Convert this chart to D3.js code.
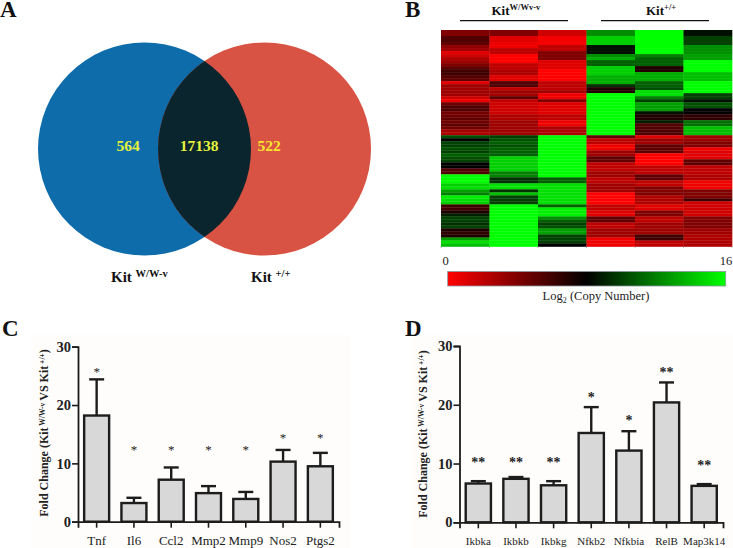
<!DOCTYPE html>
<html><head><meta charset="utf-8">
<script src="https://cdnjs.cloudflare.com/ajax/libs/d3/7.8.5/d3.min.js"></script>
<style>html,body{margin:0;padding:0;background:#fff}svg{display:block}
text{font-family:"Liberation Serif",serif}</style></head><body>
<svg id="c" width="733" height="548"></svg>
<script>
// Data
const vennLabels = ["564","17138","522"];
const heatColumns = ["a","b","c","d","e","f"];
const heat1 = [4,4,5.5,5.5,5,3.5,3,1,1.5,2.5,3,4,5,6,6,5.5,5,1,3,3,3,3,1.5,.5,4.5,5.5,5.5,4.5,4.5,5,4.5,5,4.5,3,2.5,10.5,8,10,10,10.5,10,11,10.5,10,8,8,5.5,5.5,16,16,16,14.5,15,13,12,15.5,15,14.5,6,6,7,9,10,10,9.5,10,7,6.5,7,13,15,14];
const heat2 = [4,4,1,1,.5,.5,2,2,0,0,0,2,2,2.5,2.5,1,1,5.5,5.5,2,3,3,5,2,1.5,1.5,1.5,1.5,2.5,2.5,3,3,3,3,3,10,10.5,11,10.5,11,11,11,14.5,14.5,14.5,14.5,14.5,12,12,9.5,9.5,15,15,9.5,14,10,10,10,16,16,16,16,16,16,16,16,16,16,16,16,16,16];
const heat3 = [1.5,1.5,.3,.3,.3,2,2,4,4,4,1,1,1,0,0,0,0,2,2,2,3,.5,.5,4,1,1,1,1,2,2,.5,.5,2.5,2.5,2.5,16,16,16,16,16,16,16,16,16,16,16,16,16,16,11,11,15,15,15,15,15,15,15,11,15.5,15.5,15.5,12.5,11,10,10.5,13,13,10,10,10,8];
const heat4 = [12.5,12.5,14.5,14.5,14.5,8.5,8.5,8.5,12.5,13.5,11,11,14.5,14.5,14.5,13.5,13.5,13.5,9.5,7,7,16,16,16,16,16,16,16,16,16,16,16,16,16,16,5,2,2,.5,.5,3,3,5,5,2,2,2,3,3,2,2,3,3,3,0,0,0,0,2,2,1,1,5,5,2,2,3,3,3,.5,.5,.5];
const heat5 = [16,16,16,16,16,16,16,16,12,11,11,11,7,7,13.5,13.5,13.5,11,11,10.5,15,15,12,10,13,13,13,8.5,7,7,9,5.5,5.5,5.5,5.5,1,3,3,5,5,5,0,0,0,0,2,2,2,5,5,2,2,4,4,4,2.5,2.5,2.5,1,1,4,4,2,2,3,3,3,3,6,6,2,2];
const heat6 = [8.5,8.5,10,10,10,12.5,12.5,12.5,13,13,16,16,16,16,14,14,14,16,16,16,16,10,10,8.5,10.5,10.5,8,8,6.5,6.5,11.5,11.5,14,14,14,3,3,4,4,.5,1,1,1,5,5,2,2,2,2.5,2.5,.5,.5,.5,4,4,4,6,1.5,1.5,1.5,1.5,1.5,4,4,4,4,3,3,2.5,2.5,2.5,2.5];
const heatData = [heat1,heat2,heat3,heat4,heat5,heat6];

const catC = ["Tnf","Il6","Ccl2","Mmp2","Mmp9","Nos2","Ptgs2"];
const meanC = [18.2,3.2,7.2,4.9,3.9,10.3,9.5];
const topC = [24.4,4.1,9.3,6.1,5.1,12.3,11.8];
const starC = ["*","*","*","*","*","*","*"];
const starPosC = [25.9,12.5,12.5,12.5,12.5,14.6,14.6];

const catD = ["Ikbka","Ikbkb","Ikbkg","Nfkb2","Nfkbia","RelB","Map3k14"];
const meanD = [6.6,7.4,6.3,15.2,12.2,20.4,6.2];
const topD = [7.0,7.7,7.0,19.6,15.5,23.8,6.5];
const starD = ["**","**","**","*","*","**","**"];
const starPosD = [10.3,10.3,10.3,21.3,17.4,25.6,9.7];
const yTicks = [0,10,20,30];

const svg = d3.select("#c");
const defs = svg.append("defs");
svg.append("rect").attr("x",30).attr("y",335).attr("width",320).attr("height",213).attr("fill","#fefdfb");
svg.append("rect").attr("x",412).attr("y",335).attr("width",321).attr("height",213).attr("fill","#fefdfb");

function letter(t,x,y){svg.append("text").attr("x",x).attr("y",y).attr("font-size",23).attr("font-weight","bold").attr("fill","#111").text(t);}
letter("A",0,17);letter("B",405,17);letter("C",2,336);letter("D",405,336);

// Venn
const lc={x:144.5,y:149,r:106.5}, rc={x:264.5,y:149,r:106.5};
defs.append("clipPath").attr("id","clipL").append("circle").attr("cx",lc.x).attr("cy",lc.y).attr("r",lc.r);
svg.append("circle").attr("cx",lc.x).attr("cy",lc.y).attr("r",lc.r).attr("fill","#0e6cab");
svg.append("circle").attr("cx",rc.x).attr("cy",rc.y).attr("r",rc.r).attr("fill","#d85343");
svg.append("circle").attr("cx",rc.x).attr("cy",rc.y).attr("r",rc.r).attr("fill","#0a252e").attr("clip-path","url(#clipL)");
const vennX=[128,199,269], vennFill=["#e6f23c","#e6f23c","#f7e62e"];
svg.selectAll(".vn").data(vennLabels).join("text").attr("x",(d,i)=>vennX[i]).attr("y",151)
  .attr("text-anchor","middle").attr("font-size",15.5).attr("font-weight","bold").attr("fill",(d,i)=>vennFill[i]).text(d=>d);
function kit(x,y,sup,size,supSize,gap){
  const t=svg.append("text").attr("x",x).attr("y",y).attr("font-size",size).attr("font-weight","bold").attr("fill","#111");
  t.append("tspan").text("Kit"+(gap?"\u00a0":""));
  t.append("tspan").attr("dy",-5).attr("font-size",supSize).text(sup);
}
kit(111,282,"W/W-v",15,10.5,true);
kit(251,282,"+/+",15,10.5,true);

// Heatmap
const hx=d3.scaleBand().domain(heatColumns).range([441,732]);
const hy=d3.scaleBand().domain(d3.range(72)).range([30,246.5]);
const hc=d3.scaleLinear().domain([0,8,16]).range(["#ff0000","#000000","#00ff00"]);
heatColumns.forEach((c,ci)=>{
  svg.append("g").selectAll("rect").data(heatData[ci]).join("rect")
   .attr("x",hx(c)).attr("width",hx.bandwidth()+.3).attr("y",(d,i)=>hy(i)).attr("height",hy.bandwidth()+.3).attr("fill",d=>hc(d));
});
const hb=svg.append("g").attr("stroke","#999").attr("stroke-width",.7);
d3.range(7).forEach(i=>{const x=441+i*hx.bandwidth();hb.append("line").attr("x1",x).attr("x2",x).attr("y1",246.5).attr("y2",248);});
kit(491.5,15,"W/Wv-v",13,8.5,false);
kit(646,15,"+/+",13,8.5,false);
svg.append("line").attr("x1",460).attr("x2",568).attr("y1",20.7).attr("y2",20.7).attr("stroke","#111").attr("stroke-width",1.2);
svg.append("line").attr("x1",601).attr("x2",709).attr("y1",20.7).attr("y2",20.7).attr("stroke","#111").attr("stroke-width",1.2);
const grad=defs.append("linearGradient").attr("id","g");
[0,8,16].forEach(v=>grad.append("stop").attr("offset",v/16).attr("stop-color",hc(v)));
svg.append("rect").attr("x",447.7).attr("y",271.5).attr("width",278).attr("height",14.5).attr("fill","url(#g)").attr("stroke","#8a96a0").attr("stroke-width",.8);
svg.append("text").attr("x",445.5).attr("y",265).attr("text-anchor","middle").attr("font-size",12.5).attr("fill","#222").text("0");
svg.append("text").attr("x",726).attr("y",265).attr("text-anchor","middle").attr("font-size",12.5).attr("fill","#222").text("16");
const lg=svg.append("text").attr("x",596).attr("y",300).attr("text-anchor","middle").attr("font-size",12.5).attr("fill","#222");
lg.append("tspan").text("Log");lg.append("tspan").attr("dy",3).attr("font-size",8).text("2");lg.append("tspan").attr("dy",-3).text(" (Copy Number)");

// Bar charts
function bars(o){
  const g=svg.append("g");
  const x=d3.scaleBand().domain(o.cats).range(o.xr).paddingInner(.33).paddingOuter(.165);
  const y=d3.scaleLinear().domain([0,30]).range(o.yr);
  const col="#1c1c1c";
  g.selectAll(".eb").data(o.cats).join("line").attr("x1",d=>x(d)+x.bandwidth()/2).attr("x2",d=>x(d)+x.bandwidth()/2)
    .attr("y1",(d,i)=>y(o.mean[i])).attr("y2",(d,i)=>y(o.top[i])).attr("stroke",col).attr("stroke-width",2.4);
  g.selectAll(".cap").data(o.cats).join("line").attr("x1",d=>x(d)+x.bandwidth()/2-7.5).attr("x2",d=>x(d)+x.bandwidth()/2+7.5)
    .attr("y1",(d,i)=>y(o.top[i])).attr("y2",(d,i)=>y(o.top[i])).attr("stroke",col).attr("stroke-width",2.4);
  g.selectAll(".bar").data(o.cats).join("rect").attr("x",d=>x(d)).attr("width",x.bandwidth())
    .attr("y",(d,i)=>y(o.mean[i])).attr("height",(d,i)=>y(0)-y(o.mean[i])).attr("fill","#d8d8d8").attr("stroke",col).attr("stroke-width",2.4);
  const ay=g.append("g").attr("transform",`translate(${o.xr[0]},0)`).call(d3.axisLeft(y).tickValues(yTicks).tickSize(6).tickPadding(1));
  const ax=g.append("g").attr("transform",`translate(0,${o.yr[0]})`).call(d3.axisBottom(x).tickSize(6).tickPadding(o.tp));
  [ay,ax].forEach(a=>{a.select(".domain").attr("stroke",col).attr("stroke-width",1.8);a.selectAll("line").attr("stroke",col).attr("stroke-width",1.6);});
  ay.selectAll("text").attr("font-family","Liberation Sans").attr("font-weight","bold").attr("font-size",14.5).attr("fill","#222");
  ax.selectAll("text").attr("font-family","Liberation Serif").attr("font-size",o.fs).attr("fill","#222");
  g.selectAll(".st").data(o.stars).join("text").attr("x",(d,i)=>x(o.cats[i])+x.bandwidth()/2).attr("y",(d,i)=>y(o.starPos[i])+5)
    .attr("text-anchor","middle").attr("font-size",o.sfs).attr("font-weight",o.sw).attr("fill","#222").text(d=>d);
  const t=g.append("text").attr("transform",`translate(${o.tx},${o.ty}) rotate(-90)`).attr("text-anchor","middle")
    .attr("font-size",o.tfs).attr("font-weight","bold").attr("fill","#222");
  t.append("tspan").text("Fold Change (Kit");
  t.append("tspan").attr("dy",-3).attr("font-size",7.5).text(" W/W-v ");
  t.append("tspan").attr("dy",3).text("VS Kit");
  t.append("tspan").attr("dy",-3).attr("font-size",7.5).text(" +/+");
  t.append("tspan").attr("dy",3).text(")");
}
bars({cats:catC,mean:meanC,top:topC,stars:starC,starPos:starPosC,xr:[78,339],yr:[521.7,346.7],fs:13,tp:8,sfs:13,sw:"normal",tx:48,ty:433,tfs:12});
bars({cats:catD,mean:meanD,top:topD,stars:starD,starPos:starPosD,xr:[459.5,723],yr:[522.3,346],fs:11,tp:9,sfs:14,sw:"bold",tx:427,ty:434,tfs:12});
</script></body></html>
